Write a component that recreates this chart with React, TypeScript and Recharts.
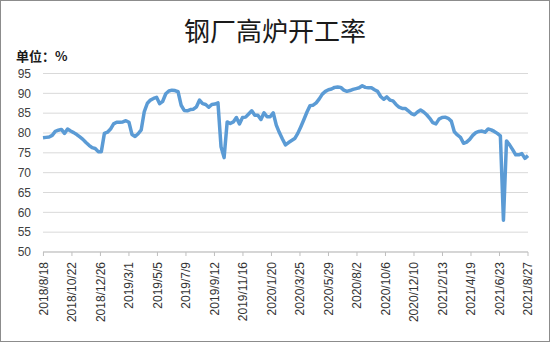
import React from 'react';
import { LineChart, Line, XAxis, YAxis, CartesianGrid } from 'recharts';

// 周度数据，2018/8/17 起每周一个点
const startDate = '2018/8/17';

const utilization = [
  78.8, 78.9, 79.0, 79.4, 80.4, 80.7, 80.9, 79.9, 81.0, 80.5,
  80.1, 79.6, 79.0, 78.4, 77.6, 76.9, 76.3, 76.1, 75.3, 75.3,
  79.9, 80.2, 81.0, 82.3, 82.7, 82.7, 82.8, 83.1, 82.7, 79.6,
  79.1, 79.8, 80.8, 85.4, 87.5, 88.3, 88.7, 89.0, 87.4, 88.0,
  89.9, 90.6, 90.8, 90.7, 90.4, 87.0, 85.7, 85.6, 85.9, 86.0,
  86.6, 88.3, 87.4, 87.2, 86.5, 87.2, 87.3, 87.6, 76.5, 73.8,
  82.8, 82.4, 82.8, 83.9, 82.3, 83.9, 84.0, 84.8, 85.6, 84.5,
  84.5, 83.4, 85.1, 84.1, 84.1, 85.1, 82.0, 80.1, 78.5, 77.0,
  77.6, 78.1, 78.6, 79.9, 81.6, 83.4, 85.3, 86.9, 87.0, 87.6,
  88.6, 89.8, 90.5, 90.9, 91.1, 91.5, 91.6, 91.5, 90.8, 90.5,
  90.7, 91.0, 91.2, 91.4, 91.9, 91.5, 91.4, 91.4, 90.9, 90.5,
  89.2, 88.5, 89.1, 88.3, 88.1, 87.2, 86.5, 86.2, 86.2, 85.6,
  84.9, 84.6, 85.3, 85.8, 85.3, 84.6, 83.7, 82.6, 82.3, 83.5,
  83.9, 84.0, 83.7, 83.0, 80.3, 79.5, 78.9, 77.4, 77.7, 78.4,
  79.4, 80.1, 80.4, 80.5, 80.2, 81.0, 80.8, 80.4, 79.9, 79.3,
  58.0, 78.0, 77.0, 75.8, 74.5, 74.5, 74.8, 73.6, 74.3,
];

const tickLabels = [
  '2018/8/18', '2018/10/22', '2018/12/26', '2019/3/1', '2019/5/5', '2019/7/9',
  '2019/9/12', '2019/11/16', '2020/1/20', '2020/3/25', '2020/5/29', '2020/8/2',
  '2020/10/6', '2020/12/10', '2021/2/13', '2021/4/19', '2021/6/23', '2021/8/27',
];

const yTicks = [50, 55, 60, 65, 70, 75, 80, 85, 90, 95];

const DAY = 86400000;
const toTime = (s: string) => {
  const [y, m, d] = s.split('/').map(Number);
  return Date.UTC(y, m - 1, d);
};
const fmtDate = (t: number) => {
  const d = new Date(t);
  return `${d.getUTCFullYear()}/${d.getUTCMonth() + 1}/${d.getUTCDate()}`;
};

const t0 = toTime(startDate);
const data = utilization.map((v, i) => ({ t: t0 + i * 7 * DAY, value: v }));
const xTicks = tickLabels.map(toTime);

const font = '"Liberation Sans", Arial, sans-serif';

const DateTick: React.FC<any> = ({ x, y, payload }) => (
  <g transform={`translate(${x},${y})`}>
    <text
      transform="rotate(-90)"
      x={-1}
      y={0}
      dy="0.35em"
      textAnchor="end"
      fill="#333"
      fontSize={12}
      fontFamily={font}
    >
      {fmtDate(payload.value)}
    </text>
  </g>
);

const App: React.FC = () => {
  return (
    <div style={{ position: 'absolute', left: 0, top: 0, width: 550, height: 342, background: '#fff' }}>
      <div
        style={{
          position: 'absolute', left: 0, right: 0, top: 13, textAlign: 'center',
          fontFamily: '"Noto Sans CJK SC", sans-serif', fontSize: 26, lineHeight: '34px', color: '#1a1a1a',
        }}
      >
        钢厂高炉开工率
      </div>
      <div
        style={{
          position: 'absolute', left: 16, top: 46,
          fontFamily: '"Noto Sans CJK SC", sans-serif', fontSize: 13, fontWeight: 700, lineHeight: '20px', color: '#1a1a1a',
        }}
      >
        单位：%
      </div>
      <LineChart
        width={550}
        height={342}
        data={data}
        margin={{ top: 73.5, right: 22, left: 0, bottom: 5 }}
      >
        <CartesianGrid vertical={false} stroke="#D9D9D9" />
        <XAxis
          dataKey="t"
          type="number"
          scale="time"
          domain={[xTicks[0] - DAY, xTicks[xTicks.length - 1]]}
          ticks={xTicks}
          interval={0}
          height={85}
          tickSize={4}
          tickMargin={5}
          stroke="#BFBFBF"
          tick={<DateTick />}
        />
        <YAxis
          domain={[50, 95]}
          ticks={yTicks}
          interval={0}
          width={43}
          axisLine={false}
          tickLine={false}
          tickMargin={6}
          tick={{ fill: '#404040', fontSize: 12, fontFamily: font }}
        />
        <Line
          type="linear"
          dataKey="value"
          stroke="#5B9BD5"
          strokeWidth={3.5}
          strokeLinejoin="round"
          dot={false}
          isAnimationActive={false}
        />
      </LineChart>
      <div
        style={{
          position: 'absolute', left: 0, top: 0, width: 550, height: 342,
          boxSizing: 'border-box', border: '1px solid #8c8c8c', pointerEvents: 'none',
        }}
      />
    </div>
  );
};

export default App;
